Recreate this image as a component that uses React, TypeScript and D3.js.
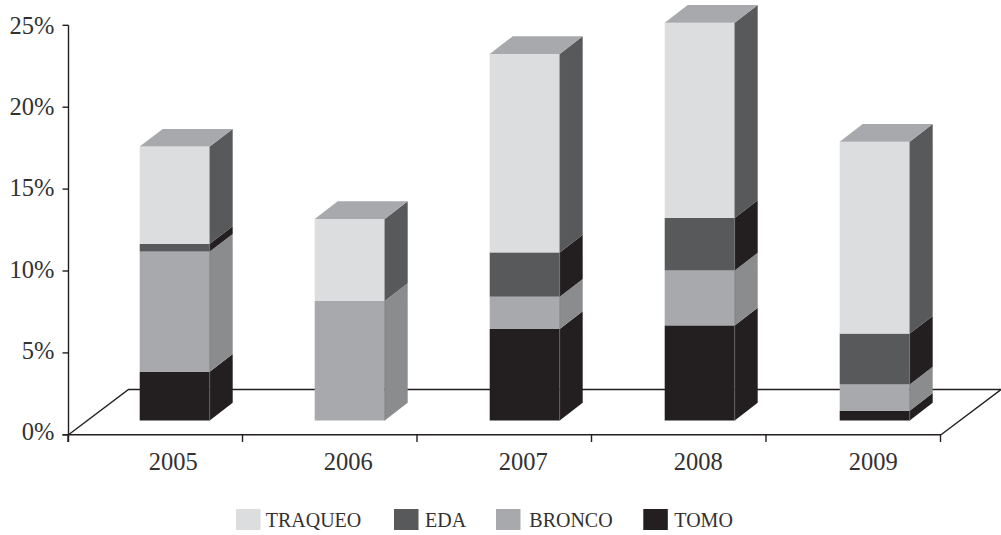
import React from "react";
import * as d3 from "d3";

// Share of procedures per year, in percent.
const years = ["2005", "2006", "2007", "2008", "2009"];
const tomo = [2.98, 0, 5.58, 5.8, 0.6];
const bronco = [7.32, 7.29, 1.97, 3.35, 1.6];
const eda = [0.47, 0, 2.7, 3.2, 3.1];
const traqueo = [5.93, 5.0, 12.1, 11.9, 11.7];
const yTicks = [0, 5, 10, 15, 20, 25];

const seriesNames = ["TOMO", "BRONCO", "EDA", "TRAQUEO"];
const legendNames = ["TRAQUEO", "EDA", "BRONCO", "TOMO"];
const legendSwatchX = [236, 394, 496, 643.3];
const legendTextX = [265.7, 425, 529.3, 674.3];

const frontColor: Record<string, string> = {
  TOMO: "#231f20",
  BRONCO: "#a7a9ac",
  EDA: "#58595b",
  TRAQUEO: "#dcddde",
};
const sideColor: Record<string, string> = {
  TOMO: "#231f20",
  BRONCO: "#8a8c8e",
  EDA: "#231f20",
  TRAQUEO: "#58595b",
};
const topColor = "#a7a9ac";
const ink = "#231f20";
const textColor = "#333132";
const font = "'Liberation Serif', serif";

const W = 1001;
const H = 535;
const axisX = 68.5;
const axisY = 434.8;
const floorDx = 60;
const floorDy = 45.3;
const barDx = 23;
const barDy = 17.7;

// Value scale for the axis plane, the same scale pushed back to the bars' plane,
// and the baselines of the axis labels.
const yAxis = d3.scaleLinear().domain([0, 25]).range([axisY, 25.3]);
const yBar = d3.scaleLinear().domain([0, 25]).range([420.5, 10.5]);
const yLabel = d3.scaleLinear().domain([0, 25]).range([440, 34]);

// Bars and year labels sit on one band scale, axis ticks on the category edges.
const xBar = d3.scaleBand().domain(years).range([87.2, 962.2]).paddingInner(0.6).paddingOuter(0.3);
const xTick = d3.scaleLinear().domain([0, years.length]).range([68, 940.5]);

const rows = years.map((y, i) => ({
  year: y,
  TOMO: tomo[i],
  BRONCO: bronco[i],
  EDA: eda[i],
  TRAQUEO: traqueo[i],
}));
const stacked = d3.stack<any>().keys(seriesNames)(rows);

const poly = (pts: [number, number][]) => pts.map((p) => p.join(",")).join(" ");

export default function App() {
  const bw = 70;
  return (
    <svg
      width={W}
      height={H}
      viewBox={`0 0 ${W} ${H}`}
      style={{ position: "absolute", left: 0, top: 0, background: "#fff" }}
    >
      {/* Floor of the 3D plot */}
      <polyline
        points={poly([
          [axisX, axisY],
          [axisX + floorDx, axisY - floorDy],
          [W, axisY - floorDy],
          [941, axisY],
        ])}
        fill="none"
        stroke={ink}
        strokeWidth={1.4}
      />

      {/* Stacked boxes */}
      {stacked.map((layer) => (
        <g key={layer.key}>
          {layer.map((d, i) => {
            if (d[1] - d[0] <= 0) return null;
            const cx = xBar(years[i])! + xBar.bandwidth() / 2;
            const x0 = cx - bw / 2;
            const x1 = cx + bw / 2;
            const yb = yBar(d[0]);
            const yt = yBar(d[1]);
            return (
              <g key={years[i]}>
                <polygon
                  points={poly([
                    [x1, yb],
                    [x1 + barDx, yb - barDy],
                    [x1 + barDx, yt - barDy],
                    [x1, yt],
                  ])}
                  fill={sideColor[layer.key]}
                />
                <rect x={x0} y={yt} width={bw} height={yb - yt} fill={frontColor[layer.key]} />
                <line x1={x1} x2={x1} y1={yt} y2={yb} stroke="#6d6e71" strokeWidth={0.6} />
              </g>
            );
          })}
        </g>
      ))}

      {/* Lids on the top of each stack */}
      {years.map((y, i) => {
        const total = tomo[i] + bronco[i] + eda[i] + traqueo[i];
        const cx = xBar(y)! + xBar.bandwidth() / 2;
        const x0 = cx - bw / 2;
        const x1 = cx + bw / 2;
        const yt = yBar(total);
        return (
          <polygon
            key={y}
            points={poly([
              [x0, yt],
              [x0 + barDx, yt - barDy],
              [x1 + barDx, yt - barDy],
              [x1, yt],
            ])}
            fill={topColor}
          />
        );
      })}

      {/* Axes */}
      <line x1={axisX} x2={axisX} y1={yAxis(25)} y2={442} stroke={ink} strokeWidth={1.4} />
      <line x1={62.5} x2={941} y1={axisY} y2={axisY} stroke={ink} strokeWidth={1.4} />
      {yTicks.map((t) => (
        <g key={t}>
          <line x1={62.5} x2={axisX} y1={yAxis(t)} y2={yAxis(t)} stroke={ink} strokeWidth={1.4} />
          <text
            x={54.5}
            y={yLabel(t)}
            textAnchor="end"
            fontFamily={font}
            fontSize={24.5}
            fill={textColor}
          >
            {t}%
          </text>
        </g>
      ))}
      {d3.range(years.length + 1).map((i) => (
        <line
          key={i}
          x1={xTick(i)}
          x2={xTick(i)}
          y1={axisY}
          y2={442}
          stroke={ink}
          strokeWidth={1.4}
        />
      ))}
      {years.map((y) => (
        <text
          key={y}
          x={xBar(y)! + xBar.bandwidth() / 2 - 1.5}
          y={469.5}
          textAnchor="middle"
          fontFamily={font}
          fontSize={24.5}
          fill={textColor}
        >
          {y}
        </text>
      ))}

      {/* Legend */}
      {legendNames.map((n, i) => (
        <g key={n}>
          <rect x={legendSwatchX[i]} y={509} width={24.5} height={21} fill={frontColor[n]} />
          <text x={legendTextX[i]} y={527} fontFamily={font} fontSize={20} fill={textColor}>
            {n}
          </text>
        </g>
      ))}
    </svg>
  );
}
